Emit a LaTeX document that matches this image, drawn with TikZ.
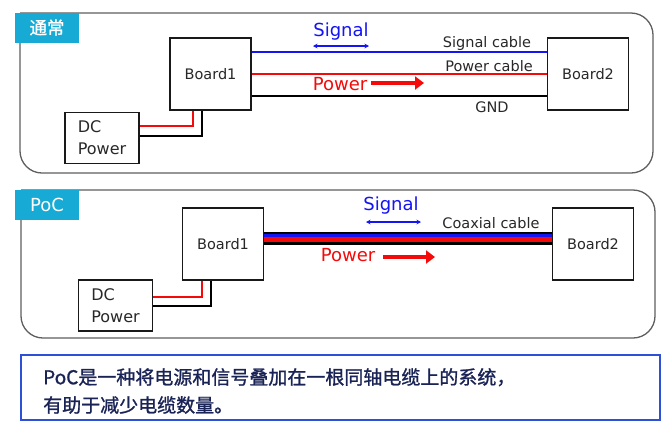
\documentclass[tikz,border=0pt]{standalone}
\usepackage{fontspec}
\setmainfont{DejaVu Sans}
\newfontfamily\cjk{Noto Sans CJK SC}
\newfontfamily\cjkmed[FakeBold=1.2]{Noto Sans CJK SC}
\usetikzlibrary{arrows.meta}
\definecolor{tagcyan}{RGB}{22,170,212}
\definecolor{panelgray}{RGB}{95,95,95}
\definecolor{sigblue}{RGB}{20,20,245}
\definecolor{pwrred}{RGB}{245,10,10}
\definecolor{notebl}{RGB}{45,80,215}
\definecolor{notetx}{RGB}{25,35,85}
\definecolor{lbltx}{RGB}{40,40,40}
\tikzset{
  panel/.style={draw=panelgray,line width=1.3pt,rounded corners=22pt},
  tagbox/.style={fill=tagcyan,text=white,minimum width=64pt,minimum height=30pt,inner sep=0pt,font=\cjkmed\fontsize{17.5}{20}\selectfont},
  boardbox/.style={draw=black!90,line width=1.8pt,fill=white,minimum width=81pt,minimum height=72pt,inner sep=0pt,text=lbltx,font=\fontsize{14.5}{17}\selectfont},
  dcbox/.style={draw=black!90,line width=1.8pt,fill=white,minimum width=74pt,minimum height=51pt,inner sep=0pt,align=left,text=lbltx,font=\fontsize{16}{22}\selectfont},
  sigline/.style={draw=sigblue,line width=1.6pt},
  pwrline/.style={draw=pwrred,line width=1.6pt},
  gndline/.style={draw=black,line width=1.6pt},
  redwire/.style={draw=pwrred,line width=2.4pt},
  blkwire/.style={draw=black,line width=2.4pt},
  siglbl/.style={text=sigblue,font=\fontsize{18}{20}\selectfont,inner sep=0pt},
  pwrlbl/.style={text=pwrred,font=\fontsize{18}{20}\selectfont,inner sep=0pt},
  cablelbl/.style={text=lbltx,font=\fontsize{14.5}{17}\selectfont,inner sep=0pt},
  sigarrow/.style={draw=sigblue,line width=1.2pt,{Stealth[length=4.5pt,width=4.5pt]}-{Stealth[length=4.5pt,width=4.5pt]}},
  pwrarrow/.style={draw=pwrred,line width=4.7pt,-{Triangle[length=9pt,width=13pt]}},
}
\begin{document}
\begin{tikzpicture}[x=1pt,y=-1pt]
\useasboundingbox[fill=white] (0,0) rectangle (666,432);

% ---------- Panel 1 ----------
\draw[panel] (20,13) -- (20,173) -- (653,173) -- (653,13) -- (20,13);
\node[tagbox] (tag1) at (47,27.5) {通常};
\node[boardbox] (b1) at (210.5,74) {Board1};
\node[boardbox] (b2) at (588,74) {Board2};
\node[dcbox] (dc1) at (102,138) {DC\\Power};

\draw[sigline] ([yshift=22pt]b1.east) -- ([yshift=22pt]b2.west);
\draw[pwrline] (b1.east) -- (b2.west);
\draw[gndline] ([yshift=-22pt]b1.east) -- ([yshift=-22pt]b2.west);

\draw[redwire] ([yshift=12pt]dc1.east) -| ([xshift=-17.5pt]b1.south);
\draw[blkwire] ([yshift=2pt]dc1.east) -| ([xshift=-8.5pt]b1.south);

\node[siglbl] (sig1) at (341,32) {Signal};
\coordinate (sa1) at (313,46);
\coordinate (sb1) at (369,46);
\draw[sigarrow] (sa1) -- (sb1);
\node[pwrlbl] (pw1) at (340,84) {Power};
\coordinate (pa1) at (371,83);
\coordinate (pb1) at (424,83);
\draw[pwrarrow] (pa1) -- (pb1);

\node[cablelbl] (lc1) at (487,43) {Signal cable};
\node[cablelbl] (lc2) at (489,66) {Power cable};
\node[cablelbl] (lc3) at (492,107) {GND};

% ---------- Panel 2 ----------
\draw[panel] (21,190) -- (21,338) -- (655,338) -- (655,190) -- (21,190);
\node[tagbox] (tag2) at (47,204.5) {\fontspec{DejaVu Sans}\fontsize{18}{20}\selectfont PoC};
\node[boardbox] (c1) at (223,244) {Board1};
\node[boardbox] (c2) at (593,244) {Board2};
\node[dcbox] (dc2) at (115.5,305.5) {DC\\Power};

\draw[draw=black,line width=13pt] ([yshift=5.5pt]c1.east) -- ([yshift=5.5pt]c2.west);
\draw[draw=sigblue,line width=3.6pt] ([yshift=8.5pt]c1.east) -- ([yshift=8.5pt]c2.west);
\draw[draw=pwrred,line width=4.4pt] ([yshift=4.5pt]c1.east) -- ([yshift=4.5pt]c2.west);

\draw[redwire] ([yshift=8.5pt]dc2.east) -| ([xshift=-21pt]c1.south);
\draw[blkwire] ([yshift=-0.5pt]dc2.east) -| ([xshift=-12pt]c1.south);

\node[siglbl] (sig2) at (391,206) {Signal};
\coordinate (sa2) at (366,222);
\coordinate (sb2) at (421,222);
\draw[sigarrow] (sa2) -- (sb2);
\node[pwrlbl] (pw2) at (348,255) {Power};
\coordinate (pa2) at (383,257);
\coordinate (pb2) at (435,257);
\draw[pwrarrow] (pa2) -- (pb2);

\node[cablelbl] (lc4) at (491,223) {Coaxial cable};

% ---------- Note ----------
\node[draw=notebl,line width=2pt,minimum width=639pt,minimum height=65pt,inner sep=0pt] (note) at (340.5,387.5) {};
\node[anchor=west,align=left,inner sep=0pt,text=notetx,font=\cjkmed\fontsize{19}{28}\selectfont] (notetext) at (43,391) {PoC是一种将电源和信号叠加在一根同轴电缆上的系统，\\有助于减少电缆数量。};
\end{tikzpicture}
\end{document}
